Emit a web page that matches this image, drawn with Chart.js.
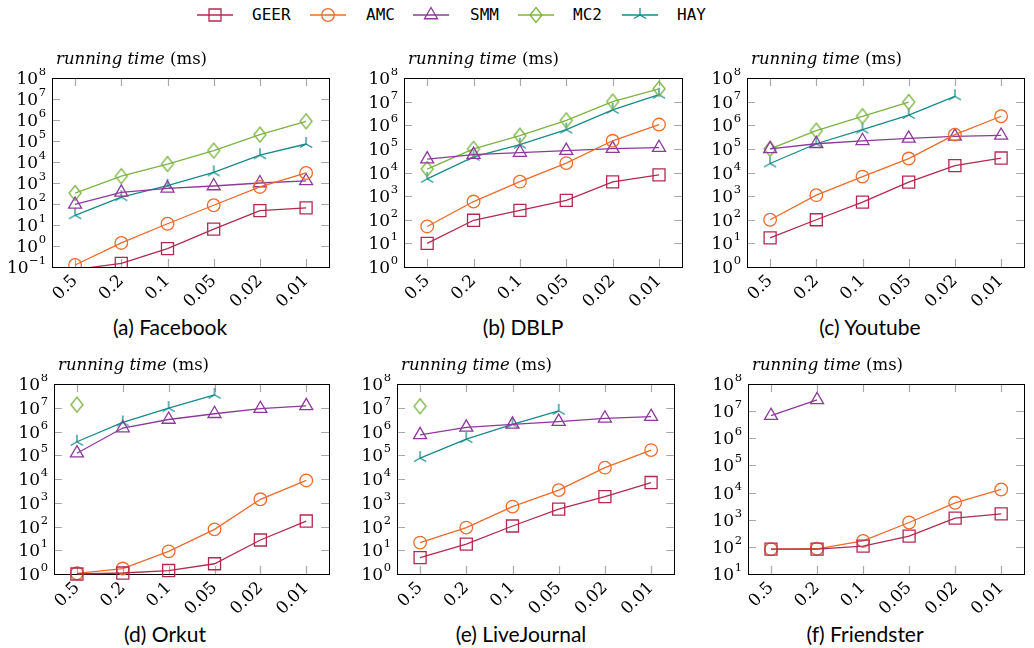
<!DOCTYPE html>
<html>
<head>
<meta charset="utf-8">
<script src="https://cdn.jsdelivr.net/npm/chart.js@4.4.1/dist/chart.umd.min.js"></script>
<style>
  body { margin: 0; width: 1034px; height: 648px; background: #fff; position: relative; overflow: hidden; }
  canvas.plot { position: absolute; }
  .ttl { position: absolute; font-family: 'DejaVu Serif'; font-size: 16.5px; line-height: 22px; white-space: nowrap; color: #000; }
  .ttl i { font-style: italic; }
  .cap { position: absolute; font-family: Lato; font-size: 21px; transform: translate(-50%, -50%); white-space: nowrap; color: #000; }
  .leg { position: absolute; font-family: 'DejaVu Sans Mono'; font-size: 16px; line-height: 20px; top: 5px; color: #000; }
  canvas.legm { position: absolute; top: 5px; }
</style>
</head>
<body>
<script>
const epsLabels = ['0.5', '0.2', '0.1', '0.05', '0.02', '0.01'];
const methods = ['GEER', 'AMC', 'SMM', 'MC2', 'HAY'];
const colors = ['#B22A4F', '#EE6A2B', '#8C3A99', '#7CB342', '#178A8A'];

// (a) Facebook
const fbGEER = [0.075, 0.15, 0.75, 6.4, 48, 65];
const fbAMC = [0.125, 1.4, 11.5, 87, 650, 3000];
const fbSMM = [95, 360, 560, 720, 1000, 1250];
const fbMC2 = [330, 2100, 8000, 35000, 200000, 870000];
const fbHAY = [29, 210, 740, 3200, 21000, 72000];
// (b) DBLP
const dbGEER = [10, 95, 250, 660, 4000, 8000];
const dbAMC = [52, 590, 4100, 25000, 220000, 1070000];
const dbSMM = [37000, 57000, 70000, 84000, 102000, 112000];
const dbMC2 = [14000, 100000, 360000, 1600000, 10000000, 35000000];
const dbHAY = [5400, 46000, 150000, 650000, 4500000, 19600000];
// (c) Youtube
const ytGEER = [17, 100, 560, 3900, 19500, 41000];
const ytAMC = [100, 1100, 6700, 39000, 400000, 2400000];
const ytSMM = [100000, 165000, 220000, 280000, 340000, 370000];
const ytMC2 = [100000, 590000, 2400000, 9600000, null, null];
const ytHAY = [24000, 165000, 650000, 2700000, 16600000, null];
// (d) Orkut
const okGEER = [1.0, 1.1, 1.4, 2.7, 27, 170];
const okAMC = [1.07, 1.7, 9, 76, 1400, 8700];
const okSMM = [122000, 1400000, 3200000, 5600000, 9100000, 12000000];
const okMC2 = [13500000, null, null, null, null, null];
const okHAY = [370000, 2400000, 9700000, 35000000, null, null];
// (e) LiveJournal
const ljGEER = [4.9, 18, 105, 540, 1800, 7100];
const ljAMC = [21, 90, 690, 3400, 30000, 165000];
const ljSMM = [720000, 1500000, 2000000, 2600000, 3600000, 4200000];
const ljMC2 = [11500000, null, null, null, null, null];
const ljHAY = [76000, 480000, 2000000, 7400000, null, null];
// (f) Friendster
const frGEER = [82, 82, 107, 250, 1140, 1650];
const frAMC = [82, 85, 165, 790, 4200, 13000];
const frSMM = [6800000, 26000000, null, null, null, null];
const frMC2 = [null, null, null, null, null, null];
const frHAY = [null, null, null, null, null, null];

const YW = 52, XH = 45, PT = 10, TL = 8;

const panels = [
  { cap: '(a) Facebook', capX: 170, box: [52, 335, 78, 267], minExp: -1, padR: 4, series: [fbGEER, fbAMC, fbSMM, fbMC2, fbHAY] },
  { cap: '(b) DBLP', capX: 523, box: [404, 688, 78, 267], minExp: 0, padR: 4, series: [dbGEER, dbAMC, dbSMM, dbMC2, dbHAY] },
  { cap: '(c) Youtube', capX: 870, box: [747, 1032, 78, 267], minExp: 0, padR: 2, series: [ytGEER, ytAMC, ytSMM, ytMC2, ytHAY] },
  { cap: '(d) Orkut', capX: 165, box: [54, 335, 384, 574], minExp: 0, padR: 4, series: [okGEER, okAMC, okSMM, okMC2, okHAY] },
  { cap: '(e) LiveJournal', capX: 521, box: [397, 680, 384, 574], minExp: 0, padR: 4, series: [ljGEER, ljAMC, ljSMM, ljMC2, ljHAY] },
  { cap: '(f) Friendster', capX: 865, box: [748, 1033, 384, 574], minExp: 1, padR: 1, series: [frGEER, frAMC, frSMM, frMC2, frHAY] }
];

function drawMark(g, kind, x, y, color) {
  g.strokeStyle = color;
  g.lineWidth = 1.3;
  g.beginPath();
  if (kind === 'square') g.rect(x - 6, y - 6, 12, 12);
  else if (kind === 'circle') g.arc(x, y, 6.3, 0, Math.PI * 2);
  else if (kind === 'triangle') { g.moveTo(x, y - 7.5); g.lineTo(x + 6.5, y + 3.75); g.lineTo(x - 6.5, y + 3.75); g.closePath(); }
  else if (kind === 'diamond') { g.moveTo(x, y - 7.5); g.lineTo(x + 6, y); g.lineTo(x, y + 7.5); g.lineTo(x - 6, y); g.closePath(); }
  else {
    g.moveTo(x, y); g.lineTo(x, y - 7);
    g.moveTo(x, y); g.lineTo(x - 6.1, y + 3.5);
    g.moveTo(x, y); g.lineTo(x + 6.1, y + 3.5);
  }
  g.stroke();
}

const kinds = ['square', 'circle', 'triangle', 'diamond', 'star'];

function markImage(kind, color) {
  const c = document.createElement('canvas');
  c.width = 20; c.height = 20;
  drawMark(c.getContext('2d'), kind, 10, 10, color);
  return c;
}

// legend
const legLine = [197, 310, 413, 518, 622];
const legText = [252, 366, 470, 573, 677];
methods.forEach((m, i) => {
  const c = document.createElement('canvas');
  c.className = 'legm';
  c.width = 36; c.height = 20;
  c.style.left = legLine[i] + 'px';
  const g = c.getContext('2d');
  g.strokeStyle = colors[i]; g.lineWidth = 1.3;
  g.beginPath(); g.moveTo(0, 10); g.lineTo(36, 10); g.stroke();
  drawMark(g, kinds[i], 18, 10, colors[i]);
  document.body.appendChild(c);
  const s = document.createElement('div');
  s.className = 'leg';
  s.style.left = legText[i] + 'px';
  s.textContent = m;
  document.body.appendChild(s);
});

// frame, inward tick marks and 10^n labels, positioned by the chart's scales
const framePlugin = {
  id: 'frame',
  beforeDatasetsDraw(chart) {
    const { ctx, chartArea: a, scales } = chart;
    ctx.save();
    ctx.strokeStyle = '#a8a8a8';
    ctx.lineWidth = 1.2;
    ctx.beginPath();
    scales.y.ticks.forEach(t => {
      const py = Math.round(scales.y.getPixelForValue(t.value)) + 0.5;
      if (py < a.top + 2 || py > a.bottom - 2) return;
      ctx.moveTo(a.left, py); ctx.lineTo(a.left + TL, py);
      ctx.moveTo(a.right, py); ctx.lineTo(a.right - TL, py);
    });
    scales.x.ticks.forEach((t, i) => {
      const px = Math.round(scales.x.getPixelForTick(i)) + 0.5;
      ctx.moveTo(px, a.top); ctx.lineTo(px, a.top + TL);
      ctx.moveTo(px, a.bottom); ctx.lineTo(px, a.bottom - TL);
    });
    ctx.stroke();
    ctx.strokeStyle = '#000';
    ctx.lineWidth = 1;
    ctx.strokeRect(Math.round(a.left) + 0.5, Math.round(a.top) + 0.5, Math.round(a.right - a.left), Math.round(a.bottom - a.top));

    ctx.fillStyle = '#000';
    ctx.textAlign = 'right';
    ctx.textBaseline = 'alphabetic';
    scales.y.ticks.forEach(t => {
      const py = scales.y.getPixelForValue(t.value);
      const e = Math.round(Math.log10(t.value));
      const es = e < 0 ? '\u2212' + (-e) : String(e);
      const xr = a.left - 6;
      ctx.font = '11.5px "DejaVu Serif"';
      const w = ctx.measureText(es).width;
      ctx.fillText(es, xr, py - 3);
      ctx.font = '17px "DejaVu Serif"';
      ctx.fillText('10', xr - w - 0.5, py + 6);
    });
    ctx.restore();
  }
};

const pointStyles = ['rect', 'circle', 'triangle', markImage('diamond', colors[3]), markImage('star', colors[4])];
const pointSizes = [8.5, 6.3, 7.5, 8, 8];

panels.forEach(p => {
  const [L, R, T, B] = p.box;
  const c = document.createElement('canvas');
  c.className = 'plot';
  c.width = R - L + YW + p.padR;
  c.height = B - T + PT + XH;
  c.style.left = (L - YW) + 'px';
  c.style.top = (T - PT) + 'px';
  document.body.appendChild(c);

  const t = document.createElement('div');
  t.className = 'ttl';
  t.style.left = (L + 4) + 'px';
  t.style.top = (T - 30) + 'px';
  t.innerHTML = '<i>running time</i> (ms)';
  document.body.appendChild(t);

  const cp = document.createElement('div');
  cp.className = 'cap';
  cp.style.left = p.capX + 'px';
  cp.style.top = (B + 59) + 'px';
  cp.textContent = p.cap;
  document.body.appendChild(cp);

  const minVal = Math.pow(10, p.minExp);
  const exps = [];
  for (let e = p.minExp; e <= 8; e++) exps.push(e);
  const below = p.series.some(s => s.some(v => v != null && v < minVal));

  new Chart(c, {
    type: 'line',
    data: {
      labels: epsLabels,
      datasets: p.series.map((s, i) => ({
        label: methods[i],
        data: s,
        borderColor: colors[i],
        borderWidth: 1.3,
        tension: 0,
        pointStyle: pointStyles[i],
        pointRadius: ctx => (ctx.raw != null && ctx.raw < minVal) ? 0 : pointSizes[i],
        pointBorderColor: colors[i],
        pointBackgroundColor: 'rgba(0,0,0,0)',
        pointBorderWidth: 1.3,
        clip: { left: 12, right: 12, top: 12, bottom: below ? 0 : 12 }
      }))
    },
    options: {
      responsive: false,
      animation: false,
      layout: { padding: { top: PT, right: p.padR, left: 0, bottom: 0 } },
      plugins: { legend: { display: false }, tooltip: { enabled: false } },
      scales: {
        x: {
          type: 'category',
          offset: true,
          grid: { display: false, drawTicks: false },
          border: { display: false },
          ticks: { autoSkip: false, maxRotation: 45, minRotation: 45, padding: 4, color: '#000',
            font: { family: 'DejaVu Serif', size: 17 } },
          afterFit: s => { s.height = XH; }
        },
        y: {
          type: 'logarithmic',
          min: minVal,
          max: 1e8,
          grid: { display: false, drawTicks: false },
          border: { display: false },
          afterBuildTicks: s => { s.ticks = exps.map(e => ({ value: Math.pow(10, e) })); },
          ticks: { display: false, autoSkip: false },
          afterFit: s => { s.width = YW; }
        }
      }
    },
    plugins: [framePlugin]
  });
});
</script>
</body>
</html>
